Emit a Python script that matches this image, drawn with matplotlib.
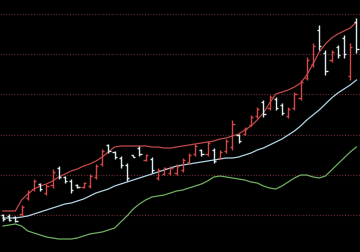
import matplotlib
matplotlib.use('Agg')
import matplotlib.pyplot as plt
import numpy as np

# OHLC bars (chart units, bottom of image = 0)
highs = [38, 38, 36, 47, 62, 73, 69, 68, 83, 86, 76, 73, 68, 70, 78, 88, 103, 108, 101, 96,
         89, 97, 106, 98, 95, 84, 85, 86, 88, 94, 99, 108, 103, 111, 104, 102, 113, 132, 118, 125,
         137, 145, 152, 157, 155, 149, 145, 160, 172, 195, 209, 227, 202, 202, 207, 217, 209, 234]
lows = [31, 31, 30, 36, 52, 61, 61, 57, 64, 73, 69, 59, 64, 64, 64, 73, 86, 99, 93, 84,
        71, 95, 96, 91, 79, 72, 77, 77, 77, 80, 88, 96, 96, 96, 89, 93, 99, 102, 109, 117,
        126, 134, 135, 142, 142, 137, 134, 142, 152, 172, 185, 202, 177, 190, 194, 194, 172, 199]
opens = [37, 36, 35, 38, 54, 63, 68, 59, 67, 84, 75, 71, 67, 65, 66, 75, 88, 107, 100, 94,
         87, 97, 104, 92, 93, 74, 78, 79, 79, 82, 90, 98, 102, 98, 102, 94, 101, 105, 117, 118,
         127, 136, 150, 144, 153, 147, 136, 144, 154, 174, 188, 222, 199, 192, 205, 214, 176, 230]
closes = [33, 32, 31, 45, 60, 71, 63, 66, 80, 75, 71, 62, 65, 69, 76, 86, 101, 101, 95, 87,
          74, 95, 98, 97, 82, 82, 84, 84, 86, 92, 97, 106, 98, 109, 91, 100, 111, 128, 111, 123,
          135, 143, 138, 155, 144, 139, 143, 158, 170, 192, 206, 206, 181, 200, 197, 198, 205, 203]

# indicator lines, one value per bar
upper_line = [41, 41, 41, 52, 58, 63, 66, 68, 71, 75, 78, 81, 83, 86, 88, 91, 95, 100, 105, 106,
              106, 106, 106, 106, 105, 105, 104, 104, 105, 106, 107, 108, 109, 110, 111, 113, 114, 116, 118, 122,
              126, 132, 139, 149, 158, 160, 162, 165, 169, 177, 188, 200, 208, 214, 218, 221, 224, 230]
mid_line = [34, 34, 34, 35, 36, 38, 40, 42, 44, 46, 48, 49, 51, 53, 56, 59, 61, 63, 66, 68,
            70, 72, 74, 76, 78, 80, 82, 84, 86, 87, 88, 89, 90, 91, 92, 93, 94, 94, 95, 97,
            99, 102, 104, 107, 110, 113, 117, 121, 126, 132, 137, 142, 148, 154, 159, 163, 167, 172]
lower_line = [26, 27, 28, 26, 21, 19, 17, 15, 14, 13, 13, 13, 14, 16, 18, 19, 20, 22, 24, 30,
              36, 43, 48, 52, 55, 56, 57, 59, 61, 62, 64, 66, 68, 71, 75, 76, 75, 74, 73, 72,
              70, 69, 66, 64, 63, 66, 70, 74, 77, 77, 75, 74, 76, 82, 88, 94, 100, 105]

grid_levels = [37, 77, 117, 158, 198, 238]

fig = plt.figure(figsize=(3.6, 2.52), dpi=100, facecolor='black')
ax = fig.add_axes([0, 0, 1, 1])
ax.set_facecolor('black')

# faint dotted red grid
for g in grid_levels:
    ax.axhline(g, color='#6e2c36', linewidth=0.8, linestyle=(0, (1, 1.5)), zorder=1)

x = np.arange(len(highs))
up_color = '#d44848'
down_color = '#dcecec'
tick = 0.35
for i in x:
    c = up_color if closes[i] >= opens[i] else down_color
    ax.vlines(i, lows[i], highs[i], color=c, linewidth=1.0, zorder=3)
    ax.hlines(opens[i], i - tick, i, color=c, linewidth=1.0, zorder=3)
    ax.hlines(closes[i], i, i + tick, color=c, linewidth=1.0, zorder=3)

ax.plot(x, upper_line, color='#c04a4a', linewidth=0.9, zorder=2)
ax.plot(x, mid_line, color='#b0d4e4', linewidth=0.9, zorder=2)
ax.plot(x, lower_line, color='#6eb060', linewidth=0.9, zorder=2)

ax.set_xlim(-0.48, 57.58)
ax.set_ylim(0, 252)
ax.axis('off')

fig.savefig('out.png', dpi=100, facecolor='black')
